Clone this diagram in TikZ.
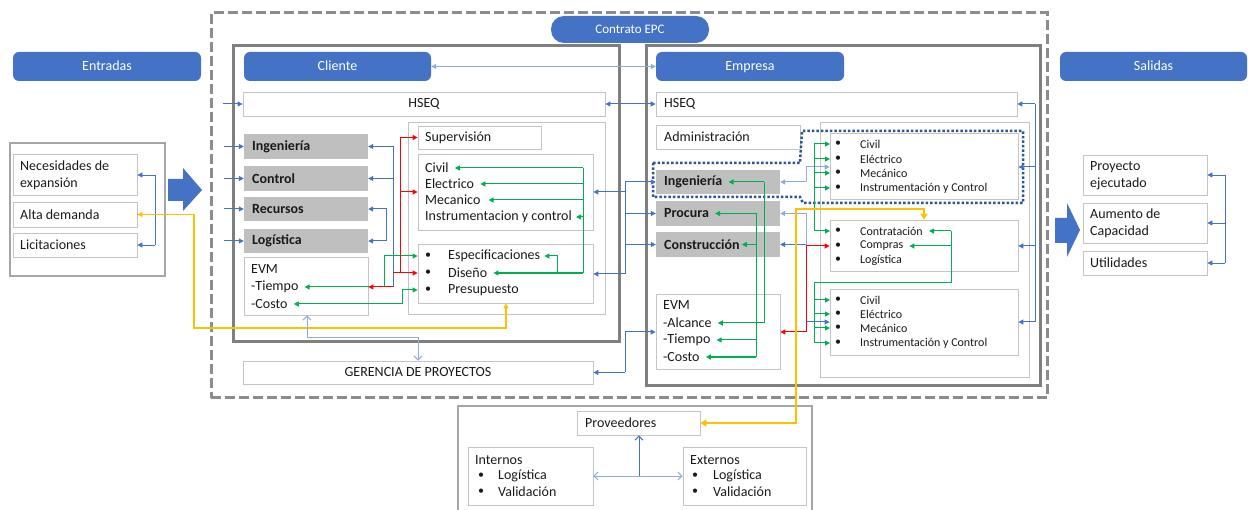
\documentclass[tikz,border=0pt]{standalone}
\usepackage{fontspec}
\setmainfont{Carlito}
\usetikzlibrary{arrows.meta,fit}
\definecolor{hblue}{HTML}{4472C4}
\definecolor{lblue}{HTML}{8FAADC}
\definecolor{gfill}{HTML}{BFBFBF}
\definecolor{bord}{HTML}{C4C4C4}
\definecolor{frm}{HTML}{7F7F7F}
\definecolor{frmb}{HTML}{A6A6A6}
\definecolor{cgreen}{HTML}{00B050}
\definecolor{cyel}{HTML}{FFC000}
\definecolor{navy}{HTML}{2F5597}
\definecolor{txtc}{HTML}{1A1A1A}
\newcommand\bx[6]{\node[#1, fit={(#3,#4) (#5,#6)}, inner sep=0pt] (#2) {};}
\begin{document}
\begin{tikzpicture}[x=1pt,y=-1pt,
  box/.style={draw=bord,line width=0.8pt,fill=white},
  gb/.style={fill=gfill,draw=none},
  hdr/.style={fill=hblue,draw=none,rounded corners=6pt},
  frame/.style={draw=frm,line width=3pt},
  frame2/.style={draw=frmb,line width=2pt},
  t/.style={font=\fontsize{14}{16}\selectfont,text=txtc,inner sep=0pt,anchor=west},
  ts/.style={font=\fontsize{12}{14}\selectfont,text=txtc,inner sep=0pt,anchor=west},
  tb/.style={font=\fontsize{14}{16}\selectfont\bfseries,text=txtc,inner sep=0pt,anchor=west},
  ht/.style={font=\fontsize{14}{16}\selectfont,text=white,inner sep=0pt,text height=9pt,text depth=0pt},
  bul/.style={font=\fontsize{12}{14}\selectfont,text=txtc,inner sep=0pt},
  bl/.style={draw=hblue,line width=1pt},
  lb/.style={draw=lblue,line width=1pt},
  gr/.style={draw=cgreen,line width=1pt},
  rd/.style={draw=red,line width=1pt},
  tip/.style={-{Triangle[length=5pt,width=5pt]}},
  tips/.style={{Triangle[length=5pt,width=5pt]}-{Triangle[length=5pt,width=5pt]}},
  otip/.style={{Straight Barb[length=4pt,width=8pt]}-{Straight Barb[length=4pt,width=8pt]}}
]
\useasboundingbox[fill=white] (0,0) rectangle (1248,510);

% ---------- frames ----------
\bx{draw=frm!90,line width=3pt,dash pattern=on 10pt off 4pt}{outer}{211}{13}{1047}{398}
\bx{frame}{fCli}{233}{46}{619}{342}
\bx{frame}{fEmp}{646}{46}{1040}{386}
\bx{hdr,rounded corners=13pt}{hEPC}{551}{16}{709}{43}
\node[ht,font=\fontsize{13}{15}\selectfont,text height=8.5pt] (tEPC) at (hEPC) {Contrato EPC};
\bx{hdr}{hEnt}{13}{52}{201}{81} \node[ht] (tEnt) at (hEnt) {Entradas};
\bx{hdr}{hCli}{244}{52}{431}{81} \node[ht] (tCli) at (hCli) {Cliente};
\bx{hdr}{hEmp}{656}{52}{844}{81} \node[ht] (tEmp) at (hEmp) {Empresa};
\bx{hdr}{hSal}{1060}{52}{1247}{81} \node[ht] (tSal) at (hSal) {Salidas};

% ---------- Entradas ----------
\bx{frame2}{fEnt}{10}{143}{165}{276}
\bx{box}{eNec}{13}{154}{137}{195}
\bx{box}{eAlta}{13}{202}{137}{227}
\bx{box}{eLic}{13}{233}{137}{257}
\node[t] (tNec1) at (20,166) {Necesidades de};
\node[t] (tNec2) at (20,184) {expansión};
\node[t] (tAlta) at (20,214.5) {Alta demanda};
\node[t] (tLic) at (20,245) {Licitaciones};
\coordinate (eBus1) at (155,175);
\coordinate (eBus2) at (155,245);
\draw[bl,line width=0.8pt] (eBus1) -- (eBus2);
\draw[bl,line width=0.8pt,tip] (eBus1) -- (eNec.east |- eBus1);
\draw[bl,line width=0.8pt,tip] (eBus2) -- (eLic.east);
\draw[bl,line width=0.8pt] (155,214.5) -- (eAlta.east);
\fill[hblue] (168,179) -- (183,179) -- (183,168) -- (202,190) -- (183,211) -- (183,201) -- (168,201) -- cycle;

% ---------- Salidas ----------
\fill[hblue] (1055,218) -- (1067,218) -- (1067,203) -- (1080,230) -- (1067,257) -- (1067,243) -- (1055,243) -- cycle;
\bx{box}{sProy}{1083}{155}{1207}{195}
\bx{box}{sAum}{1083}{203}{1207}{243}
\bx{box}{sUti}{1083}{251}{1207}{275}
\node[t] (tProy1) at (1090,167) {Proyecto};
\node[t] (tProy2) at (1090,184) {ejecutado};
\node[t] (tAum1) at (1090,214) {Aumento de};
\node[t] (tAum2) at (1090,232) {Capacidad};
\node[t] (tUti) at (1090,263) {Utilidades};
\coordinate (sBus1) at (1225,175);
\coordinate (sBus2) at (1225,263);
\draw[bl,line width=0.8pt] (sBus1) -- (sBus2);
\draw[bl,line width=0.8pt,tip] (sBus1) -- (sProy.east);
\draw[bl,line width=0.8pt,tip] (1225,223) -- (sAum.east);
\draw[bl,line width=0.8pt,tip] (sBus2) -- (sUti.east);

% ---------- Cliente ----------
\bx{box}{cHSEQ}{243}{92}{605}{116}
\node[t,anchor=center] (tcHSEQ) at (cHSEQ) {HSEQ};
\bx{gb}{cIng}{244}{134}{368}{159}
\bx{gb}{cCon}{244}{166}{368}{191}
\bx{gb}{cRec}{244}{197}{368}{221}
\bx{gb}{cLog}{244}{229}{368}{253}
\bx{box}{cEVM}{244}{257}{368}{315}
\node[tb] (tcIng) at (252,146.5) {Ingeniería};
\node[tb] (tcCon) at (252,178.5) {Control};
\node[tb] (tcRec) at (252,209) {Recursos};
\node[tb] (tcLog) at (252,241) {Logística};
\node[t] (tcEVM) at (251,269) {EVM};
\node[t] (tcTiempo) at (251,287) {-Tiempo};
\node[t] (tcCosto) at (251,304) {-Costo};
\bx{box}{cRight}{408}{122}{605}{314}
\bx{box}{cSup}{418}{126}{541}{149}
\bx{box}{cDis}{418}{154}{593}{230}
\bx{box}{cSpec}{418}{244}{593}{303}
\node[t] (tSup) at (425,137.5) {Supervisión};
\node[t] (tCivil) at (425,168) {Civil};
\node[t] (tElec) at (425,184) {Electrico};
\node[t] (tMec) at (425,200) {Mecanico};
\node[t] (tInst) at (425,217) {Instrumentacion y control};
\node[bul] (bc1) at (428,256) {•};
\node[bul] (bc2) at (428,273) {•};
\node[bul] (bc3) at (428,290) {•};
\node[t] (tEsp) at (448,256) {Especificaciones};
\node[t] (tDis) at (448,273) {Diseño};
\node[t] (tPre) at (448,290) {Presupuesto};
\bx{box}{ger}{243}{361}{593}{384}
\node[t,anchor=center] (tger) at (ger) {GERENCIA DE PROYECTOS};

% left stubs
\foreach \n in {cHSEQ,cIng,cCon,cRec,cLog} \draw[bl,tip] (\n.west) ++(-20,0) -- (\n.west);

% ---------- Empresa ----------
\bx{box}{eHSEQ}{656}{92}{1017}{116}
\node[t] (teHSEQ) at (664,104) {HSEQ};
\bx{box}{eAdm}{656}{125}{800}{149}
\node[t] (tAdm) at (664,137) {Administración};
\bx{box}{eRight}{820}{122}{1029}{377}
\bx{box}{eEng}{830}{133}{1018}{199}
\bx{box}{eCont}{830}{220}{1018}{271}
\bx{box}{eBot}{830}{289}{1018}{355}
\bx{gb}{eIng}{656}{170}{780}{194}
\bx{gb}{eProc}{656}{201}{780}{226}
\bx{gb}{eCons}{656}{232}{780}{257}
\bx{box}{eEVM}{656}{294}{780}{369}
\node[tb] (teIng) at (664,182) {Ingeniería};
\node[tb] (teProc) at (664,213.5) {Procura};
\node[tb] (teCons) at (664,244.5) {Construcción};
\node[t] (teEVM) at (663,305) {EVM};
\node[t] (teAlc) at (663,323) {-Alcance};
\node[t] (teTie) at (663,340) {-Tiempo};
\node[t] (teCos) at (663,357) {-Costo};
% lists
\foreach \y/\s/\nm in {144/Civil/eA1,159/Eléctrico/eA2,173/Mecánico/eA3,188/Instrumentación y Control/eA4,
  231/Contratación/eB1,246/Compras/eB2,260/Logística/eB3,
  300/Civil/eC1,314/Eléctrico/eC2,328/Mecánico/eC3,343/Instrumentación y Control/eC4}{
  \node[bul] (b\nm) at (838,\y) {•};
  \node[ts] (t\nm) at (860,\y) {\s};
}
\draw[navy,line width=2.5pt,dash pattern=on 2.5pt off 2pt] (653,163) -- (800,163) -- (802,131) -- (1023,131) -- (1023,203) -- (803,203) -- (800,197) -- (653,197) -- cycle;

% ---------- Proveedores ----------
\draw[frame2] (458,512) -- (458,406) -- (812,406) -- (812,512);
\bx{box}{pProv}{577}{411}{700}{435}
\bx{box}{pInt}{468}{447}{593}{505}
\bx{box}{pExt}{683}{447}{806}{505}
\node[t] (tProv) at (585,423) {Proveedores};
\node[t] (tInt) at (475,460) {Internos};
\node[bul] (bi1) at (481,476) {•};
\node[bul] (bi2) at (481,492) {•};
\node[t] (tInt1) at (498,476) {Logística};
\node[t] (tInt2) at (498,492) {Validación};
\node[t] (tExt) at (690,460) {Externos};
\node[bul] (be1) at (695,476) {•};
\node[bul] (be2) at (695,492) {•};
\node[t] (tExt1) at (713,476) {Logística};
\node[t] (tExt2) at (713,492) {Validación};
\draw[bl,-{Straight Barb[length=4pt,width=8pt]}] (639,476) -- (639,0 |- pProv.south);
\draw[lb,otip] (pInt.east |- 0,476) -- (pExt.west |- 0,476);

% ---------- connectors Cliente ----------
\draw[lb,tips] (hCli.east) -- (hEmp.west);
\draw[bl,tips] (cHSEQ.east) -- (eHSEQ.west);
\draw[bl] (393,146.5) -- (393,287);
\draw[bl,tip] (393,146.5) -- (cIng.east);
\draw[bl,tip] (393,178.5) -- (cCon.east);
\draw[bl,tips] (cRec.east) -- (386,209) -- (386,241) -- (cLog.east);
% green
\draw[gr] (583,168) -- (583,273);
\draw[gr,tip] (583,168) -- ([xshift=6pt]tCivil.east);
\draw[gr,tip] (583,184) -- ([xshift=6pt]tElec.east);
\draw[gr,tip] (583,200) -- ([xshift=8pt]tMec.east);
\draw[gr,tip] (583,217) -- ([xshift=4pt]tInst.east);
\draw[gr,tip,line width=1.6pt] (583,273) -- ([xshift=6pt]tDis.east);
\draw[gr,tip] (557,273) -- (557,256) -- ([xshift=4pt]tEsp.east);
\draw[gr,tips] ([xshift=6pt]tcTiempo.east) -- (384,287) -- (384,256) -- (cSpec.west |- tEsp);
\draw[gr,tips] ([xshift=6pt]tcCosto.east) -- (402,304) -- (402,290) -- (cSpec.west |- tPre);
% red
\draw[rd] (400,137.5) -- (400,273);
\draw[rd,tip] (400,137.5) -- (cSup.west);
\draw[rd,tip] (400,192) -- (cDis.west);
\draw[rd,tip] (393,273) -- (cSpec.west |- tDis);
\draw[rd,tip] (393,287) -- (cEVM.east |- tcTiempo);
% yellow thin
\draw[draw=cyel,line width=1.2pt,tips] (eAlta.east) -- (194,214.5) -- (194,328) -- (506,328) -- (506,0 |- cSpec.south);
% gerencia
\draw[lb,otip] (307,0 |- cEVM.south) -- (307,338) -- (418,338) -- (418,0 |- ger.north);

% ---------- connectors Empresa ----------
\draw[bl] (625,182) -- (625,274);
\draw[bl,tip] (625,182) -- (eIng.west);
\draw[bl,tip] (625,213.5) -- (eProc.west);
\draw[bl,tip] (625,244.5) -- (eCons.west);
\draw[bl,tip] (625,192) -- (cDis.east);
\draw[bl,tip] (625,274) -- (cSpec.east |- 0,274);
\draw[bl] (625,332) -- (625,372.5);
\draw[bl,tip] (625,332) -- (eEVM.west |- 0,332);
\draw[bl,tip] (625,372.5) -- (ger.east);
% right bus
\draw[bl] (1035,104) -- (1035,322);
\draw[bl,tip] (1035,104) -- (eHSEQ.east);
\draw[bl,tip] (1035,167) -- (eEng.east |- 0,167);
\draw[bl,tip] (1035,246) -- (eCont.east |- 0,246);
\draw[bl,tip] (1035,322) -- (eBot.east |- 0,322);
% Ing link
\draw[lb,tips] (eIng.east) -- (806,182) -- (806,167) -- (eEng.west |- 0,167);
\draw[lb] (806,213.5) -- (806,322);
\draw[lb,tip] (806,213.5) -- (eProc.east);
\draw[bl,tip] (806,244.5) -- (eCons.east);
\draw[bl,tip] (806,322) -- (eBot.west |- 0,322);
\draw[rd,tips] (eEVM.east |- 0,332) -- (806,332) -- (806,246) -- (eCont.west |- 0,246);
% green
\draw[gr] (764,182) -- (764,323);
\draw[gr,tip] (764,182) -- ([xshift=6pt]teIng.east);
\draw[gr,tip] (764,323) -- ([xshift=6pt]teAlc.east);
\draw[gr] (756,213.5) -- (756,357);
\draw[gr,tip] (756,213.5) -- ([xshift=6pt]teProc.east);
\draw[gr,tip] (756,244.5) -- ([xshift=2pt]teCons.east);
\draw[gr,tip] (756,340) -- ([xshift=6pt]teTie.east);
\draw[gr,tip,line width=1.6pt] (756,357) -- ([xshift=6pt]teCos.east);
\draw[gr] (814,144) -- (814,231);
\foreach \yy in {144,159,173,188,231} \draw[gr,tip] (814,\yy) -- (830,\yy);
\draw[gr,tip] (951,231) -- ([xshift=6pt]teB1.east);
\draw[gr,tip] (951,246) -- ([xshift=6pt]teB2.east);
\draw[gr] (951,231) -- (951,283) -- (814,283) -- (814,343);
\foreach \yy in {300,314,328,343} \draw[gr,tip] (814,\yy) -- (830,\yy);
% yellow thick
\draw[draw=cyel,line width=2.5pt,{Triangle[length=6pt,width=7pt]}-{Triangle[length=6pt,width=7pt]}] (pProv.east) -- (796,423) -- (796,209) -- (924,209) -- (924,0 |- eCont.north);
\end{tikzpicture}
\end{document}
